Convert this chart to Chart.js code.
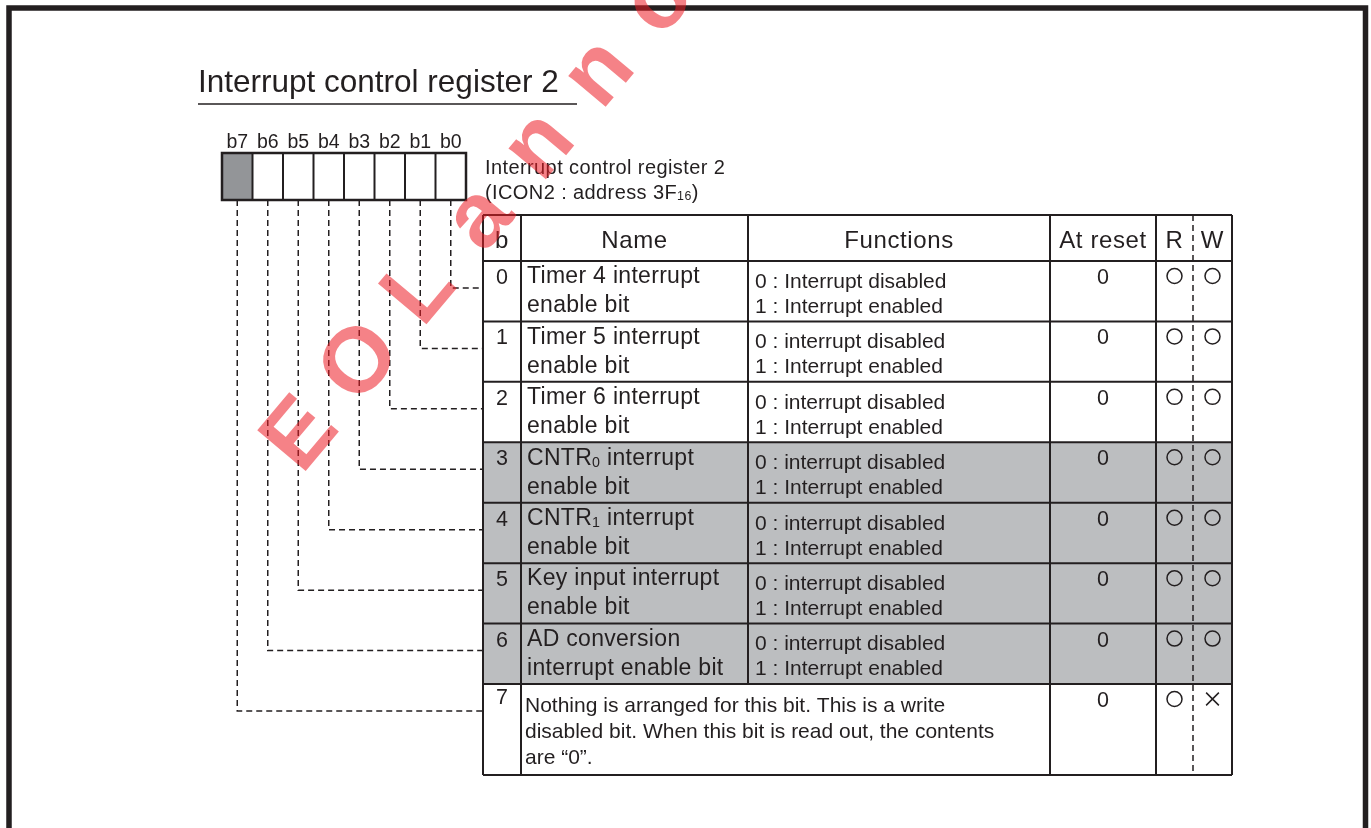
<!DOCTYPE html>
<html>
<head>
<meta charset="utf-8">
<title>Interrupt control register 2</title>
<script src="https://cdn.jsdelivr.net/npm/chart.js"></script>
<style>
  html, body { margin: 0; padding: 0; background: #fff; }
  #wrap { width: 1371px; height: 828px; }
</style>
</head>
<body>
<div id="wrap"><canvas id="ctx"></canvas></div>
<script>
// Data
const title = 'Interrupt control register 2';
const registerName = 'Interrupt control register 2';
const registerAddress = '(ICON2 : address 3F{16})';
const bitLabels = ['b7', 'b6', 'b5', 'b4', 'b3', 'b2', 'b1', 'b0'];
const unusedBits = [7];
const headers = ['b', 'Name', 'Functions', 'At reset', 'R', 'W'];
const bits = [0, 1, 2, 3, 4, 5, 6, 7];
const names = [
  ['Timer 4 interrupt', 'enable bit'],
  ['Timer 5 interrupt', 'enable bit'],
  ['Timer 6 interrupt', 'enable bit'],
  ['CNTR{0} interrupt', 'enable bit'],
  ['CNTR{1} interrupt', 'enable bit'],
  ['Key input interrupt', 'enable bit'],
  ['AD conversion', 'interrupt enable bit'],
  ['Nothing is arranged for this bit. This is a write',
   'disabled bit. When this bit is read out, the contents',
   'are \u201C0\u201D.']
];
const functions = [
  ['0 : Interrupt disabled', '1 : Interrupt enabled'],
  ['0 : interrupt disabled', '1 : Interrupt enabled'],
  ['0 : interrupt disabled', '1 : Interrupt enabled'],
  ['0 : interrupt disabled', '1 : Interrupt enabled'],
  ['0 : interrupt disabled', '1 : Interrupt enabled'],
  ['0 : interrupt disabled', '1 : Interrupt enabled'],
  ['0 : interrupt disabled', '1 : Interrupt enabled'],
  []
];
const resetValues = ['0', '0', '0', '0', '0', '0', '0', '0'];
const readMarks = ['O', 'O', 'O', 'O', 'O', 'O', 'O', 'O'];
const writeMarks = ['O', 'O', 'O', 'O', 'O', 'O', 'O', 'X'];
const shadedRows = [3, 4, 5, 6];
const watermark = 'EOLannounced';

// Layout (diagram units, the hidden axes run 0..1371 and 0..828)
const FONT = '"Liberation Sans", Arial, Helvetica, sans-serif';
const INK = '#231f20';
const SHADE = '#bcbec0';
const UNUSED = '#939598';
const frame = { left: 9, top: 8, right: 1365.5, bottom: 850 };
const cols = [483, 521, 748, 1050, 1156, 1193, 1232];
const headTop = 215, headBottom = 261, rowH = 60.43, lastRowH = 91;
const reg = { x0: 222, x1: 466, y0: 153, y1: 200, labelY: 143 };
const cellW = (reg.x1 - reg.x0) / 8;

const rowTop = b => headBottom + b * rowH;
const rowBottom = b => b === 7 ? rowTop(7) + lastRowH : rowTop(b + 1);
const cellX = b => reg.x0 + (7 - b + 0.5) * cellW;
const colMid = i => (cols[i] + cols[i + 1]) / 2;

// text with {subscript} parts
function richText(ctx, str, x, y, size, align, spacing) {
  ctx.letterSpacing = (spacing || 0) + 'px';
  const parts = str.split(/(\{[^}]*\})/).filter(Boolean).map(p =>
    p[0] === '{' ? { t: p.slice(1, -1), s: size * 0.62, sub: true } : { t: p, s: size, sub: false });
  let w = 0;
  parts.forEach(p => { ctx.font = p.s + 'px ' + FONT; p.w = ctx.measureText(p.t).width; w += p.w; });
  let cx = align === 'center' ? x - w / 2 : x;
  ctx.textAlign = 'left';
  ctx.textBaseline = 'middle';
  parts.forEach(p => {
    ctx.font = p.s + 'px ' + FONT;
    ctx.fillText(p.t, cx, p.sub ? y + size * 0.2 : y);
    cx += p.w;
  });
  ctx.letterSpacing = '0px';
}

const sheet = {
  id: 'sheet',
  beforeDatasetsDraw(chart) {
    const { ctx, scales: { x, y } } = chart;
    const X = v => x.getPixelForValue(v);
    const Y = v => y.getPixelForValue(v);
    ctx.save();
    ctx.fillStyle = INK;
    ctx.strokeStyle = INK;

    // frame
    ctx.lineWidth = 5.5;
    ctx.beginPath();
    ctx.moveTo(X(frame.left), Y(frame.bottom));
    ctx.lineTo(X(frame.left), Y(frame.top));
    ctx.lineTo(X(frame.right), Y(frame.top));
    ctx.lineTo(X(frame.right), Y(frame.bottom));
    ctx.stroke();

    // title
    richText(ctx, title, X(198), Y(83), 31.5, 'left');
    ctx.lineWidth = 1.5;
    ctx.beginPath();
    ctx.moveTo(X(198), Y(104));
    ctx.lineTo(X(577), Y(104));
    ctx.stroke();

    // register bit cells
    bitLabels.forEach((lab, i) => {
      const b = 7 - i;
      const x0 = reg.x0 + i * cellW;
      if (unusedBits.includes(b)) {
        ctx.fillStyle = UNUSED;
        ctx.fillRect(X(x0), Y(reg.y0), X(x0 + cellW) - X(x0), Y(reg.y1) - Y(reg.y0));
        ctx.fillStyle = INK;
      }
      richText(ctx, lab, X(cellX(b)), Y(reg.labelY), 19.5, 'center');
    });
    ctx.lineWidth = 2.5;
    ctx.strokeRect(X(reg.x0), Y(reg.y0), X(reg.x1) - X(reg.x0), Y(reg.y1) - Y(reg.y0));
    ctx.lineWidth = 2;
    for (let i = 1; i < 8; i++) {
      ctx.beginPath();
      ctx.moveTo(X(reg.x0 + i * cellW), Y(reg.y0));
      ctx.lineTo(X(reg.x0 + i * cellW), Y(reg.y1));
      ctx.stroke();
    }
    richText(ctx, registerName, X(485), Y(168), 20, 'left', 0.4);
    richText(ctx, registerAddress, X(485), Y(193), 20, 'left', 0.4);

    // table shading
    ctx.fillStyle = SHADE;
    shadedRows.forEach(b => {
      ctx.fillRect(X(cols[0]), Y(rowTop(b)), X(cols[6]) - X(cols[0]), Y(rowBottom(b)) - Y(rowTop(b)));
    });
    ctx.fillStyle = INK;

    // table grid
    const bottom = rowBottom(7);
    ctx.lineWidth = 2;
    const hline = yy => { ctx.beginPath(); ctx.moveTo(X(cols[0]), Y(yy)); ctx.lineTo(X(cols[6]), Y(yy)); ctx.stroke(); };
    const vline = (xx, y0, y1) => { ctx.beginPath(); ctx.moveTo(X(xx), Y(y0)); ctx.lineTo(X(xx), Y(y1)); ctx.stroke(); };
    hline(headTop);
    hline(headBottom);
    bits.forEach(b => hline(rowBottom(b)));
    [0, 1, 3, 4, 6].forEach(i => vline(cols[i], headTop, bottom));
    vline(cols[2], headTop, rowTop(7));
    ctx.lineWidth = 1.5;
    ctx.setLineDash([6, 4]);
    vline(cols[5], headTop, bottom);
    ctx.setLineDash([]);

    // header
    headers.forEach((h, i) => richText(ctx, h, X(colMid(i)), Y(241), 24, 'center', 0.6));

    // rows
    bits.forEach(b => {
      const t = rowTop(b);
      richText(ctx, String(b), X(colMid(0)), Y(t + (b === 7 ? 14 : 17)), 21.5, 'center');
      if (functions[b].length) {
        names[b].forEach((s, k) => richText(ctx, s, X(527), Y(t + 16 + k * 29), 23, 'left', 0.3));
        functions[b].forEach((s, k) => richText(ctx, s, X(755), Y(t + 21 + k * 25), 21, 'left'));
      } else {
        names[b].forEach((s, k) => richText(ctx, s, X(525), Y(t + 22 + k * 26), 21, 'left'));
      }
      richText(ctx, resetValues[b], X(colMid(3)), Y(t + 17), 21.5, 'center');
    });
    ctx.restore();
  },
  afterDraw(chart) {
    const { ctx, scales: { x, y } } = chart;
    ctx.save();
    ctx.fillStyle = 'rgba(236, 28, 36, 0.55)';
    ctx.font = 'bold 92px ' + FONT;
    ctx.textAlign = 'center';
    ctx.textBaseline = 'middle';
    const start = { x: 302, y: 436 }, step = { x: 59.6, y: -72.4 };
    watermark.split('').forEach((ch, i) => {
      ctx.save();
      ctx.translate(x.getPixelForValue(start.x + i * step.x), y.getPixelForValue(start.y + i * step.y));
      ctx.rotate(-50 * Math.PI / 180);
      ctx.fillText(ch, 0, 0);
      ctx.restore();
    });
    ctx.restore();
  }
};

const connectors = bits.map(b => ({
  data: [
    { x: cellX(b), y: reg.y1 },
    { x: cellX(b), y: rowTop(b) + 27 },
    { x: cols[0], y: rowTop(b) + 27 }
  ],
  showLine: true,
  borderColor: INK,
  borderWidth: 1.5,
  borderDash: [6, 4],
  pointRadius: 0,
  fill: false
}));

const markStyle = m => m === 'X' ? 'crossRot' : 'circle';

new Chart(document.getElementById('ctx'), {
  type: 'scatter',
  data: {
    datasets: [
      ...connectors,
      {
        label: 'R',
        data: bits.map(b => ({ x: colMid(4), y: rowTop(b) + 15 })),
        pointStyle: readMarks.map(markStyle),
        pointRadius: 7.5,
        borderWidth: 1.5,
        borderColor: INK,
        backgroundColor: 'transparent'
      },
      {
        label: 'W',
        data: bits.map(b => ({ x: colMid(5), y: rowTop(b) + 15 })),
        pointStyle: writeMarks.map(markStyle),
        pointRadius: writeMarks.map(m => m === 'X' ? 9 : 7.5),
        borderWidth: 1.5,
        borderColor: INK,
        backgroundColor: 'transparent'
      }
    ]
  },
  options: {
    responsive: true,
    maintainAspectRatio: false,
    animation: false,
    events: [],
    layout: { padding: 0, autoPadding: false },
    plugins: { legend: { display: false }, tooltip: { enabled: false } },
    scales: {
      x: { type: 'linear', min: 0, max: 1371, display: false },
      y: { type: 'linear', min: 0, max: 828, reverse: true, display: false }
    }
  },
  plugins: [sheet]
});
</script>
</body>
</html>
